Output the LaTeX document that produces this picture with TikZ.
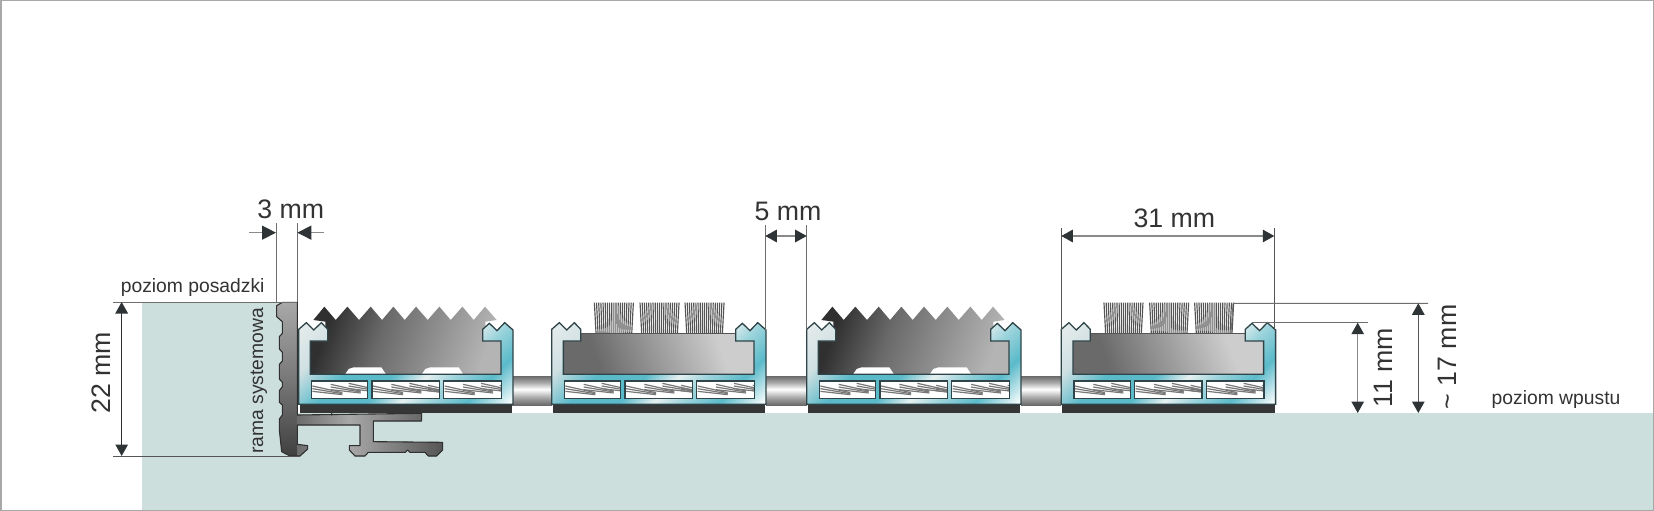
\documentclass[tikz,border=0pt]{standalone}
\usepackage{fontspec}
\setmainfont{Liberation Sans}
\usetikzlibrary{arrows.meta}
\definecolor{groundc}{HTML}{CCDFDD}
\definecolor{inkc}{HTML}{2E3436}
\definecolor{txtc}{HTML}{333333}
\definecolor{dimc}{HTML}{8A8A8A}
\definecolor{edgec}{HTML}{2F4448}
\definecolor{tealc}{HTML}{5BBACA}
\definecolor{paleA}{HTML}{E6ECEC}
\definecolor{paleB}{HTML}{CFE0E2}
\definecolor{paleC}{HTML}{E6F0F0}
\definecolor{tealB}{HTML}{9DD4DC}
\definecolor{g1}{HTML}{303030}
\definecolor{g2}{HTML}{6A6A6A}
\definecolor{g3}{HTML}{CDCDCD}
\definecolor{g3b}{HTML}{B4B4B4}
\definecolor{g4}{HTML}{555555}
\definecolor{g5}{HTML}{A8A8A8}
\definecolor{g6}{HTML}{404040}
\definecolor{g7}{HTML}{787878}
\pgfdeclarehorizontalshading{bodysh}{100bp}{
 color(0bp)=(paleA); color(15bp)=(paleA); color(27bp)=(paleB); color(38bp)=(tealc); color(50bp)=(tealc);
 color(58bp)=(paleC); color(65bp)=(tealB); color(74bp)=(tealc); color(85bp)=(white); color(100bp)=(white)}
\pgfdeclarehorizontalshading{rubbersh}{100bp}{
 color(0bp)=(g1); color(25bp)=(g1); color(42bp)=(g2); color(75bp)=(g3b); color(100bp)=(g3b)}
\pgfdeclarehorizontalshading{brushsh}{100bp}{
 color(0bp)=(g2); color(30bp)=(g2); color(70bp)=(g3); color(100bp)=(g3)}
\pgfdeclareverticalshading{tubesh}{100bp}{
 color(0bp)=(g2); color(25bp)=(g2); color(38bp)=(g5); color(52bp)=(white); color(64bp)=(g5); color(75bp)=(g2); color(100bp)=(g2)}
\pgfdeclareverticalshading{railsh}{100bp}{
 color(0bp)=(g6); color(25bp)=(g6); color(50bp)=(g7); color(75bp)=(g5); color(100bp)=(g5)}
\pgfdeclarehorizontalshading{barsh}{100bp}{
 color(0bp)=(g4); color(25bp)=(g4); color(47bp)=(g5); color(75bp)=(g4); color(100bp)=(g4)}
\tikzset{
 zoomA/.style={shift={(100,170)},x=0.33333pt,y=-0.33333pt},
 modscope/.style={shift={(#1,170)},x=0.33333pt,y=-0.33333pt},
 partline/.style={draw=edgec,line width=1.3pt,line join=miter},
 hatchline/.style={draw=g7,line width=1.2pt},
 extline/.style={draw=dimc!80!black,line width=0.9pt},
 dimline/.style={draw=dimc,line width=1.3pt},
 dimhead/.style={{Triangle[length=11.5pt,width=12.5pt,inkc]}-{Triangle[length=11.5pt,width=12.5pt,inkc]}},
 headR/.style={-{Triangle[length=14pt,width=14pt,inkc]}},
 smalltxt/.style={text=txtc,font=\fontsize{19.3}{22}\selectfont,inner sep=0pt},
 bigtxt/.style={text=txtc,font=\fontsize{26.7}{30}\selectfont,inner sep=0pt},
}
\newcommand{\slotpart}[2]{%
 \begin{scope}
  \clip (#1,633) rectangle (#2,685);
  \fill[white] (#1,633) rectangle (#2,685);
  \foreach \s/\t in {3/648,58/643,112/640,168/646}{
   \foreach \k in {0,1,2}{
    \draw[hatchline] ({#1+\s},{\t+\k*8}) -- ++(90,{20-\k*5});
   }
  }
 \end{scope}
 \draw[partline] (#1,633) rectangle (#2,685);
}
\newcommand{\modbody}{%
 \shade[shading=bodysh,shading angle=-45]
  (0,478)--(23,458)--(45,480)--(68,458)--(87,478)--(87,513)--(35,513)--(35,613)--(607,613)--(607,513)--(552,513)--(552,478)--(572,460)--(595,482)--(618,458)--(643,480)--(643,703)--(0,703)--cycle;
 \draw[partline]
  (0,703)--(0,478)--(23,458)--(45,480)--(68,458)--(87,478)--(87,513)--(35,513)--(35,613)--(607,613)--(607,513)--(552,513)--(552,478)--(572,460)--(595,482)--(618,458)--(643,480)--(643,703)--cycle;
 \slotpart{38}{207}
 \slotpart{220}{422}
 \slotpart{435}{608}
 \fill[g6!85!black] (3,705) rectangle (640,728);
}
\newcommand{\tuft}[1]{%
 \foreach \i in {0,...,18}{
  \draw[draw=g4,line width=1.15pt] ({#1+\i*6.5},398) -- ({#1+5+\i*5.95},490);
 }
}
\newcommand{\brushmodule}[1]{%
 \begin{scope}[modscope=#1]
  \tuft{128}\tuft{265}\tuft{400}
  \shade[shading=brushsh,shading angle=20]
   (87,490)--(552,490)--(552,513)--(607,513)--(607,613)--(35,613)--(35,513)--(87,513)--cycle;
  \draw[draw=g4,line width=0.9pt] (87,490)--(552,490);
  \modbody
 \end{scope}
}
\newcommand{\rubbermodule}[1]{%
 \begin{scope}[modscope=#1]
  \shade[shading=rubbersh,shading angle=-20]
   (44,450)--(77,410)--(111,450)--(146,410)--(181,450)--(216,410)--(250,450)--(284,410)--(318,450)--(352,410)--(387,450)--(422,410)--(456,450)--(491,410)--(525,450)--(559,410)--(594,450)--(560,455)--(560,513)--(607,513)--(607,613)--(35,613)--(35,513)--(80,513)--(80,455)--cycle;
  \fill[white] (139,613)--(150,597)--(165,592)--(248,592)--(262,613)--cycle;
  \fill[white] (369,613)--(380,597)--(395,592)--(480,592)--(494,613)--cycle;
  \modbody
 \end{scope}
}
\def\framepath{(530,407)--(547,397)--(592,397)--(592,735)--(965,730)--(965,753)--(820,753)--(820,815)--(1028,817)--(1028,840)--(1010,858)--(985,858)--(975,847)--(930,847)--(923,840)--(916,847)--(805,847)--(795,858)--(765,858)--(748,840)--(748,827)--(780,827)--(780,765)--(592,765)--(592,823)--(623,827)--(623,837)--(600,858)--(570,858)--(545,845)--(538,780)--(538,747)--(547,735)--(547,705)--(538,697)--(538,662)--(547,650)--(547,637)--(538,627)--(538,583)--(547,573)--(547,547)--(538,537)--(538,500)--(547,490)--(547,455)--(530,440)--cycle}
\begin{document}
\begin{tikzpicture}[x=1pt,y=-1pt]
\useasboundingbox (0,0) rectangle (1654,511);
\fill[white] (0,0) rectangle (1654,511);
% ground
\fill[groundc] (142,302) -- (285,302) -- (285,413) -- (1653,413) -- (1653,510) -- (142,510) -- cycle;
\draw[draw=g5,line width=1.5pt] (0.75,0.75) rectangle (1653.25,510.25);
% tubes
\foreach \a/\b in {511/552,766/807,1021/1061}{
 \shade[shading=tubesh] (\a,376) rectangle (\b,405);
}
% rail frame
\begin{scope}[zoomA]
 \shade[shading=railsh] \framepath;
 \begin{scope}
  \clip (593,700) rectangle (1040,870);
  \shade[shading=barsh] \framepath;
 \end{scope}
 \draw[draw=g1,line width=1.1pt,line join=round] \framepath;
\end{scope}
% modules
\rubbermodule{298.7}
\brushmodule{551.7}
\rubbermodule{806.7}
\brushmodule{1061.3}
\begin{scope}[zoomA]
 \fill[white] (593,708) rectangle (596,726);
 \fill[g1] (695,733) circle (4);
\end{scope}
% dimension geometry
\begin{scope}[zoomA]
 \coordinate (ta) at (528,160); \coordinate (tb) at (528,396);
 \coordinate (tc) at (592,160); \coordinate (td) at (592,396);
 \coordinate (la) at (40,396); \coordinate (lb) at (592,396);
 \coordinate (lc) at (40,858); \coordinate (ld) at (600,858);
 \coordinate (va) at (65,396); \coordinate (vb) at (65,858);
 \coordinate (aa) at (448,188); \coordinate (ab) at (528,188);
 \coordinate (ac) at (672,188); \coordinate (ad) at (592,188);
\end{scope}
\draw[extline] (ta)--(tb);
\draw[extline] (tc)--(td);
\draw[extline] (la)--(lb);
\draw[draw=g4,line width=0.9pt] (lc)--(ld);
\draw[dimline,draw=g1,dimhead] (va)--(vb);
\draw[dimline,headR] (aa)--(ab);
\draw[dimline,headR] (ac)--(ad);
% 5 mm
\coordinate (fa) at (765.3,225); \coordinate (fb) at (765.3,330);
\coordinate (fc) at (806.7,225); \coordinate (fd) at (806.7,330);
\coordinate (fe) at (765.3,236); \coordinate (ff) at (806.7,236);
\draw[extline] (fa)--(fb);
\draw[extline] (fc)--(fd);
\draw[dimline,dimhead] (fe)--(ff);
% 31 mm
\coordinate (ga) at (1061.3,228); \coordinate (gb) at (1061.3,330);
\coordinate (gc) at (1274.3,228); \coordinate (gd) at (1274.3,330);
\coordinate (ge) at (1061.3,236); \coordinate (gf) at (1274.3,236);
\draw[extline,draw=g4] (ga)--(gb);
\draw[extline,draw=g4] (gc)--(gd);
\draw[dimline,dimhead] (ge)--(gf);
% heights
\coordinate (ha) at (1231,333); \coordinate (hb) at (1233,303.3); \coordinate (hc) at (1428,303.3);
\coordinate (ia) at (1252,322.7); \coordinate (ib) at (1368,322.7);
\coordinate (ja) at (1357.7,322.7); \coordinate (jb) at (1357.7,413);
\coordinate (ka) at (1418.3,303.3); \coordinate (kb) at (1418.3,413);
\coordinate (ma) at (1290,413); \coordinate (mb) at (1460,413);
\draw[extline] (ha)--(hb)--(hc);
\draw[extline] (ia)--(ib);
\draw[dimline,dimhead] (ja)--(jb);
\draw[dimline,draw=g4,dimhead] (ka)--(kb);
% texts
\node[bigtxt]   (t3)  at (290.7,209) {3 mm};
\node[bigtxt]   (t5)  at (788,211) {5 mm};
\node[bigtxt]   (t31) at (1174.3,218) {31 mm};
\node[bigtxt,rotate=90] (t22) at (101,373) {22 mm};
\node[bigtxt,rotate=90] (t11) at (1383,368) {11 mm};
\node[bigtxt,rotate=90] (t17) at (1447,357) {\char"007E{} 17 mm};
\node[smalltxt] (tp)  at (192.7,288) {poziom posadzki};
\node[smalltxt] (tw)  at (1556,400) {poziom wpustu};
\node[smalltxt,rotate=90] (tr) at (259,381) {rama systemowa};
\end{tikzpicture}
\end{document}
